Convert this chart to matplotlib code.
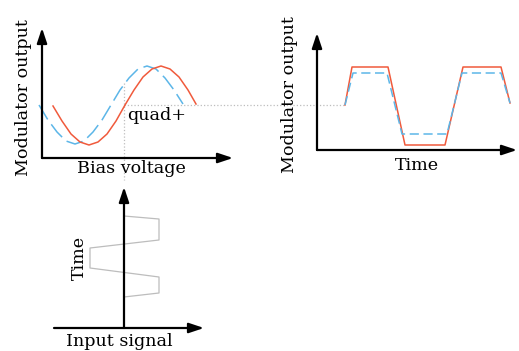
import numpy as np
import matplotlib.pyplot as plt

W, H = 519, 351

# panel 1: modulator output vs bias voltage (local units, origin at axes corner)
bias_blue = [-3, 6, 15, 24, 33, 42, 51, 60, 69, 78, 87, 96, 105, 114, 123, 132, 141]
out_blue = [53, 38, 26, 17, 14, 17, 26, 38, 53, 68, 80, 89, 92, 89, 80, 68, 54]
bias_red = [11, 20, 29, 38, 47, 56, 65, 74, 83, 92, 101, 110, 119, 128, 137, 146, 154]
out_red = [52, 37, 24, 16, 13, 16, 24, 37, 53, 68, 81, 89, 92, 89, 81, 68, 54]
quad_bias = 82
quad_out = 53

# panel 2: modulator output vs time
t_red = [28, 35, 71, 88, 128, 146, 184, 193]
y_red = [45, 83, 83, 5, 5, 83, 83, 47]
t_blue = [28, 36, 70, 85, 130, 145, 184, 193]
y_blue = [45, 77, 77, 16, 16, 77, 77, 47]

# panel 3: input signal vs time
sig_in = [0, 35, 35, -34, -34, 35, 35, 0]
t_in = [112, 109, 88, 80, 60, 51, 35, 31]

RED = '#f05a3c'
BLUE = '#5cb6e8'
GRAY = '#bdbdbd'

plt.rcParams['font.family'] = 'DejaVu Serif'
fig = plt.figure(figsize=(W / 100, H / 100), dpi=100)


def panel(left, bottom, width, height, xlim, ylim):
    ax = fig.add_axes([left / W, 1 - bottom / H, width / W, height / H])
    ax.set_xlim(*xlim)
    ax.set_ylim(*ylim)
    ax.axis('off')
    return ax


def arrows(ax, x0, y0):
    kw = dict(arrowstyle='-|>,head_length=0.9,head_width=0.3', lw=1.6,
              color='black', mutation_scale=10, shrinkA=0, shrinkB=0)
    ax.annotate('', xy=(1, y0), xytext=(0, y0), xycoords='axes fraction',
                arrowprops=kw)
    ax.annotate('', xy=(x0, 1), xytext=(x0, y0), xycoords='axes fraction',
                arrowprops=kw)


# panel 1
ax1 = panel(42, 158, 191, 130, (0, 191), (0, 130))
ax1.plot([quad_bias, quad_bias], [75, -22], ls=':', color=GRAY, lw=0.9, clip_on=False)
ax1.plot([quad_bias, 303], [quad_out, quad_out], ls=':', color=GRAY, lw=0.9, clip_on=False)
ax1.plot(bias_blue, out_blue, color=BLUE, lw=1.1, ls=(0, (11, 4)), clip_on=False)
ax1.plot(bias_red, out_red, color=RED, lw=1.1, clip_on=False)
arrows(ax1, 0, 0)

# panel 2
ax2 = panel(317, 150, 200, 117, (0, 200), (0, 117))
ax2.plot(t_red, y_red, color=RED, lw=1.1, clip_on=False)
ax2.plot(t_blue, y_blue, color=BLUE, lw=1.1, ls=(0, (6, 3)), clip_on=False)
arrows(ax2, 0, 0)

# panel 3
ax3 = panel(54, 328, 150, 141, (-70, 80), (0, 141))
ax3.plot(sig_in, t_in, color=GRAY, lw=0.9, clip_on=False)
arrows(ax3, 70 / 150, 0)

fs = 12.6
fig.text(24 / W, 1 - 98 / H, 'Modulator output', rotation=90, ha='center', va='center', fontsize=fs)
fig.text(131 / W, 1 - 169 / H, 'Bias voltage', ha='center', va='center', fontsize=fs)
fig.text(127 / W, 1 - 115 / H, 'quad+', ha='left', va='center', fontsize=fs)
fig.text(290 / W, 1 - 95 / H, 'Modulator output', rotation=90, ha='center', va='center', fontsize=fs)
fig.text(417 / W, 1 - 165 / H, 'Time', ha='center', va='center', fontsize=fs)
fig.text(79 / W, 1 - 258 / H, 'Time', rotation=90, ha='center', va='center', fontsize=fs)
fig.text(119 / W, 1 - 341 / H, 'Input signal', ha='center', va='center', fontsize=fs)

fig.savefig('out.png', dpi=100)
